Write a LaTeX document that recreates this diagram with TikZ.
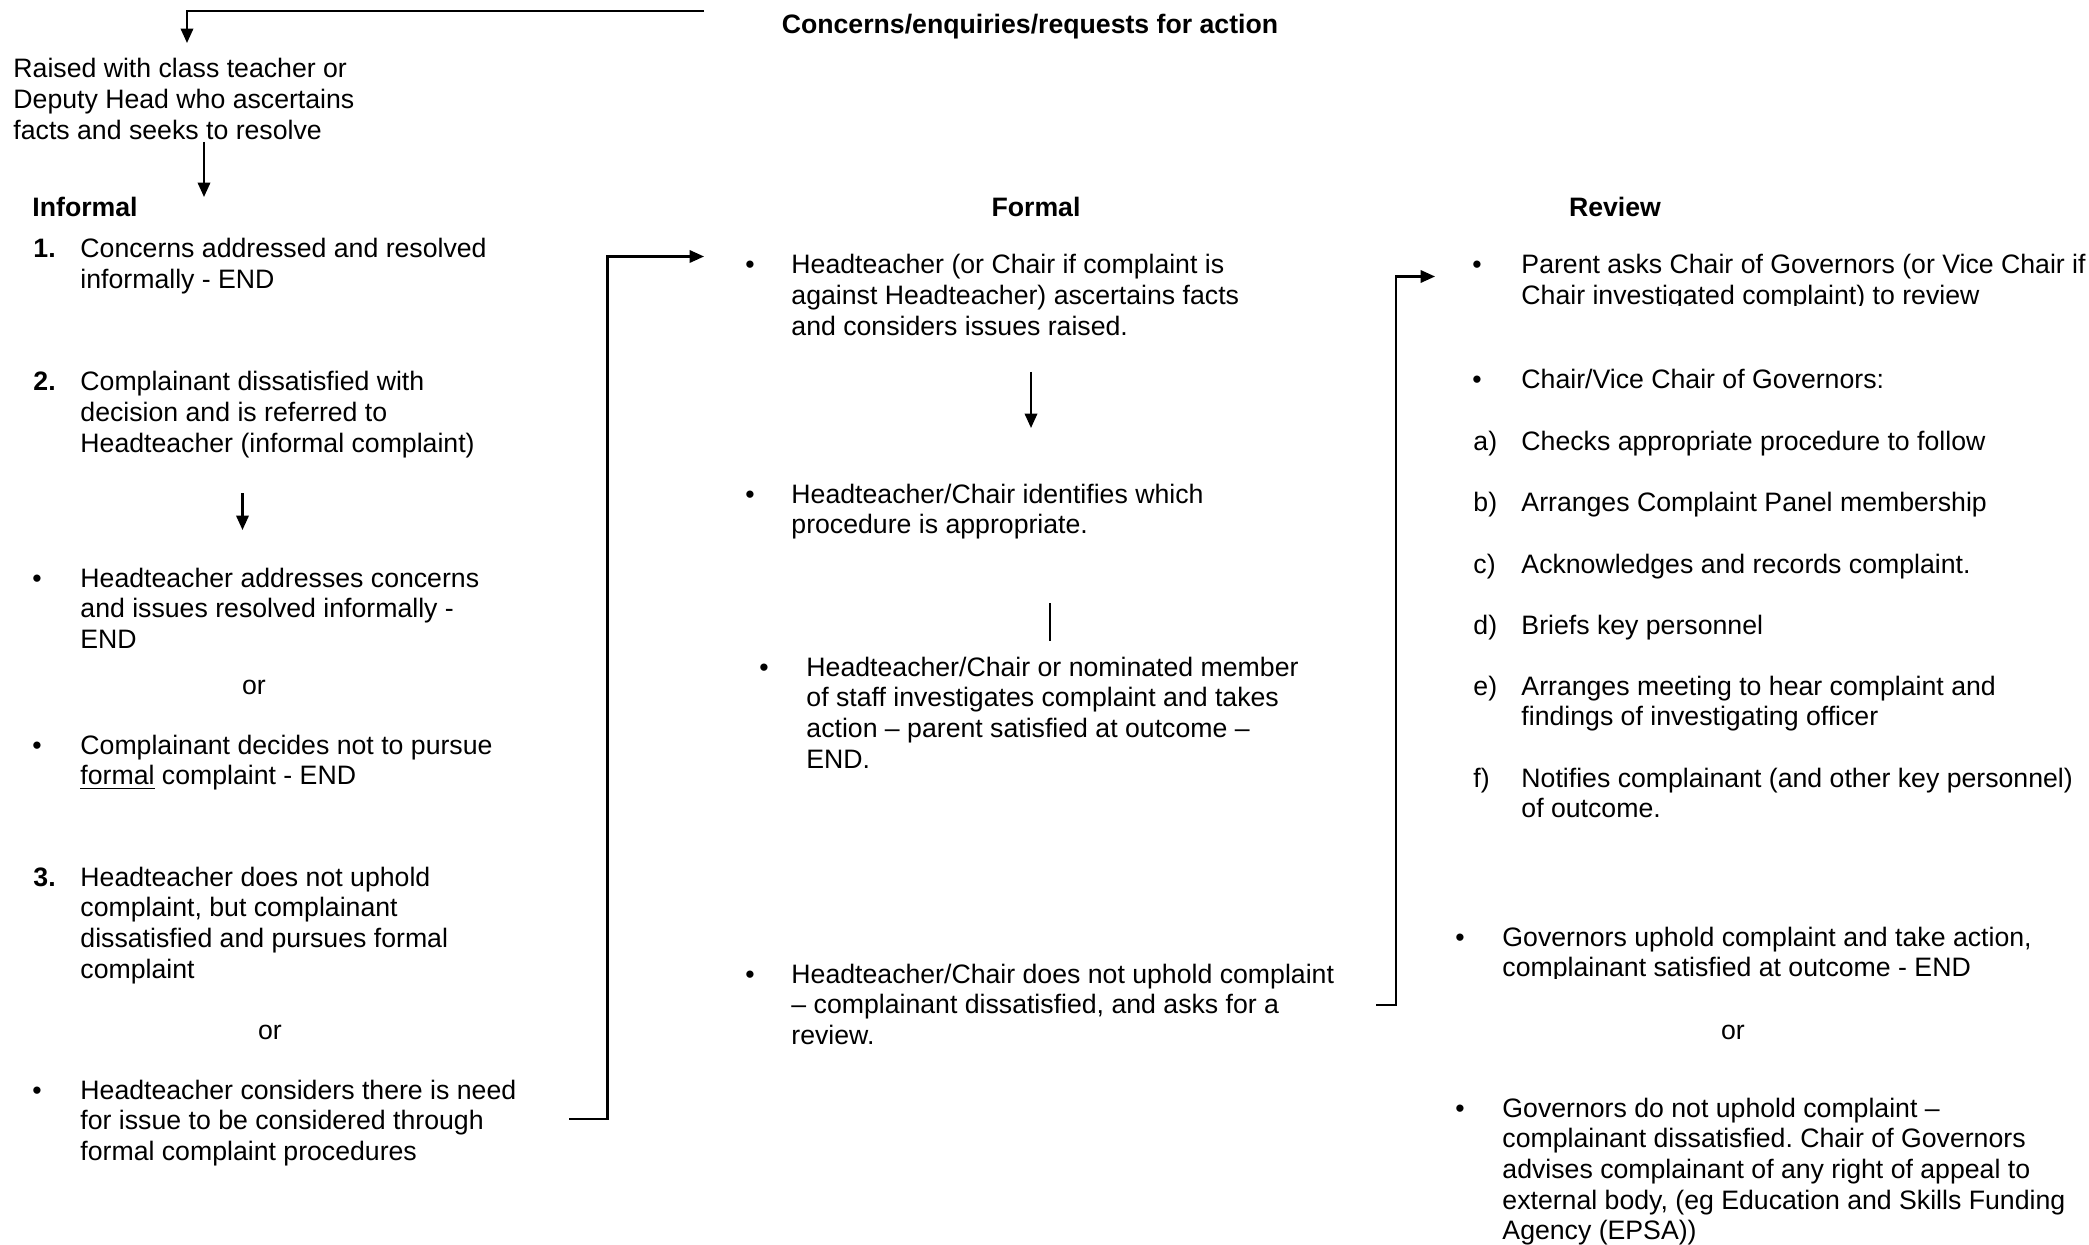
\documentclass[tikz,border=0pt]{standalone}
\usepackage{fontspec}
\setmainfont{Liberation Sans}
\usetikzlibrary{arrows.meta}
\frenchspacing
\newcommand{\ml}[1]{\begin{tabular}[t]{@{}l@{}}#1\end{tabular}}
\begin{document}
\begin{tikzpicture}[x=0.45pt,y=-0.45pt,
  txt/.style={inner sep=0pt, anchor=base west, font=\fontsize{12}{13.8}\selectfont\frenchspacing},
  ctr/.style={txt, anchor=base},
  hdr/.style={txt, font=\fontsize{12}{13.8}\selectfont\bfseries},
  bul/.style={ctr},
  conn/.style={line width=1pt},
  arr/.style={conn, -{Triangle[length=6.5pt,width=5.6pt]}},
]
\path[use as bounding box, fill=white] (0,0) rectangle (2089,1245);

% headers
\node[hdr, anchor=base] (top) at (1030,34) {Concerns/enquiries/requests for action};
\node[txt] (raised) at (13,78) {\ml{Raised with class teacher or\\Deputy Head who ascertains\\facts and seeks to resolve}};
\node[hdr] (hinf) at (32,217) {Informal};
\node[hdr, anchor=base] (hfor) at (1036,217) {Formal};
\node[hdr, anchor=base] (hrev) at (1615,217) {Review};

% informal column
\node[hdr] (n1) at (33,258) {1.};
\node[txt] (i1) at (80,258) {\ml{Concerns addressed and resolved\\informally - END}};
\node[hdr] (n2) at (33,391) {2.};
\node[txt] (i2) at (80,391) {\ml{Complainant dissatisfied with\\decision and is referred to\\Headteacher (informal complaint)}};
\node[bul] (b1) at (37,587) {•};
\node[txt] (i3) at (80,587) {\ml{Headteacher addresses concerns\\and issues resolved informally -\\END}};
\node[ctr] (or1) at (254,694) {or};
\node[bul] (b2) at (37,754) {•};
\node[txt] (i4) at (80,754) {\ml{Complainant decides not to pursue\\\underline{formal} complaint - END}};
\node[hdr] (n3) at (33,886) {3.};
\node[txt] (i5) at (80,886) {\ml{Headteacher does not uphold\\complaint, but complainant\\dissatisfied and pursues formal\\complaint}};
\node[ctr] (or2) at (270,1039) {or};
\node[bul] (b3) at (37,1099) {•};
\node[txt] (i6) at (80,1099) {\ml{Headteacher considers there is need\\for issue to be considered through\\formal complaint procedures}};

% formal column
\node[bul] (fb1) at (750,274) {•};
\node[txt] (f1) at (791,274) {\ml{Headteacher (or Chair if complaint is\\against Headteacher) ascertains facts\\and considers issues raised.}};
\node[bul] (fb2) at (750,503) {•};
\node[txt] (f2) at (791,503) {\ml{Headteacher/Chair identifies which\\procedure is appropriate.}};
\node[bul] (fb3) at (764,676) {•};
\node[txt] (f3) at (806,676) {\ml{Headteacher/Chair or nominated member\\of staff investigates complaint and takes\\action – parent satisfied at outcome –\\END.}};
\node[bul] (fb4) at (750,983) {•};
\node[txt] (f4) at (791,983) {\ml{Headteacher/Chair does not uphold complaint\\– complainant dissatisfied, and asks for a\\review.}};

% review column
\begin{scope}
\clip (1440,240) rectangle (2089,306);
\node[bul] (rb1) at (1477,274) {•};
\node[txt] (r1) at (1521,274) {\ml{Parent asks Chair of Governors (or Vice Chair if\\Chair investigated complaint) to review}};
\end{scope}
\node[bul] (rb2) at (1477,389) {•};
\node[txt] (r2) at (1521,389) {Chair/Vice Chair of Governors:};
\node[txt] (la) at (1473,450) {a)};
\node[txt] (ra) at (1521,450) {Checks appropriate procedure to follow};
\node[txt] (lb) at (1473,511) {b)};
\node[txt] (rbb) at (1521,511) {Arranges Complaint Panel membership};
\node[txt] (lc) at (1473,573) {c)};
\node[txt] (rc) at (1521,573) {Acknowledges and records complaint.};
\node[txt] (ld) at (1473,634) {d)};
\node[txt] (rd) at (1521,634) {Briefs key personnel};
\node[txt] (le) at (1473,695) {e)};
\node[txt] (re) at (1521,695) {\ml{Arranges meeting to hear complaint and\\findings of investigating officer}};
\node[txt] (lf) at (1473,787) {f)};
\node[txt] (rf) at (1521,787) {\ml{Notifies complainant (and other key personnel)\\of outcome.}};
\begin{scope}
\clip (1440,900) rectangle (2089,978);
\node[bul] (rb3) at (1460,946) {•};
\node[txt] (r3) at (1502,946) {\ml{Governors uphold complaint and take action,\\complainant satisfied at outcome - END}};
\end{scope}
\node[ctr] (or3) at (1733,1039) {or};
\node[bul] (rb4) at (1460,1117) {•};
\node[txt] (r4) at (1502,1117) {\ml{Governors do not uphold complaint –\\complainant dissatisfied. Chair of Governors\\advises complainant of any right of appeal to\\external body, (eg Education and Skills Funding\\Agency (EPSA))}};

% connector coordinates
\coordinate (t0) at (704,11);
\coordinate (t1) at (187,11);
\coordinate (t2) at (187,43);
\coordinate (a1) at (204,142);
\coordinate (a2) at (204,197);
\coordinate (a3) at (242.5,493);
\coordinate (a4) at (242.5,530);
\coordinate (l0) at (569,1119);
\coordinate (l1) at (607.5,1119);
\coordinate (l2) at (607.5,256.5);
\coordinate (l3) at (704,256.5);
\coordinate (fa1) at (1031,372);
\coordinate (fa2) at (1031,428);
\coordinate (fl1) at (1050,603);
\coordinate (fl2) at (1050,641);
\coordinate (r0) at (1376,1005);
\coordinate (rr1) at (1396,1005);
\coordinate (rr2) at (1396,276.5);
\coordinate (rr3) at (1435,276.5);

% connectors
\draw[arr] (t0) -- (t1) -- (t2);
\draw[arr] (a1) -- (a2);
\draw[arr] (a3) -- (a4);
\draw[arr] (l0) -- (l1) -- (l2) -- (l3);
\draw[arr] (fa1) -- (fa2);
\draw[conn] (fl1) -- (fl2);
\draw[arr] (r0) -- (rr1) -- (rr2) -- (rr3);
\end{tikzpicture}
\end{document}
